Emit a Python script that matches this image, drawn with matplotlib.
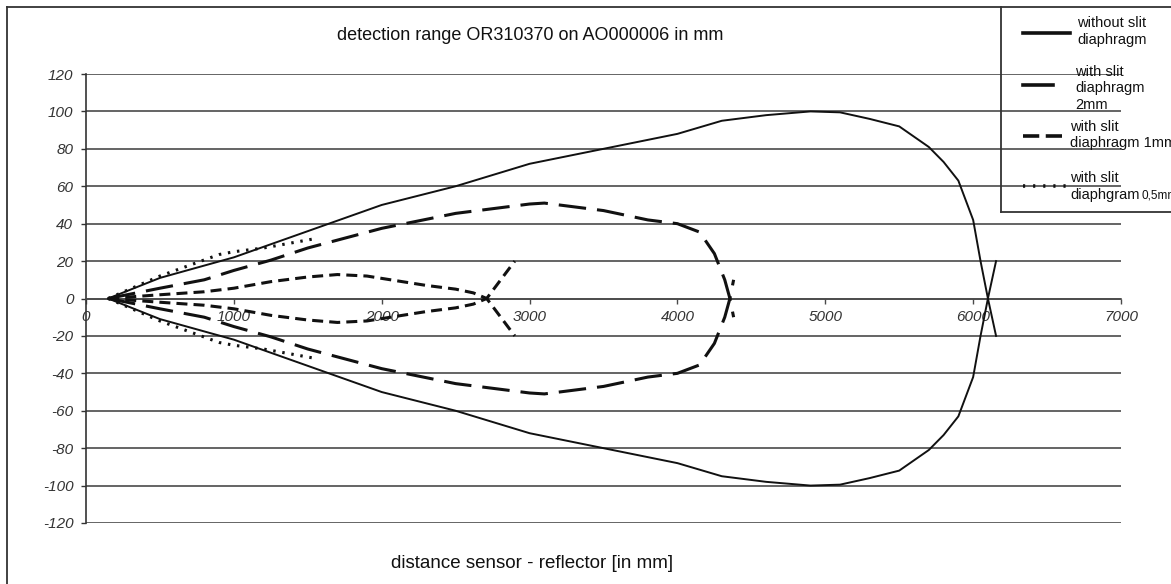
import matplotlib
matplotlib.use("Agg")
import matplotlib.pyplot as plt
from matplotlib.lines import Line2D

plt.rcParams['font.family'] = ['Liberation Sans', 'DejaVu Sans']
plt.rcParams['axes.unicode_minus'] = False

# -----------------------------
# Data (upper half, lower half is mirrored)
# -----------------------------
x_none = [150, 500, 1000, 1500, 2000, 2500, 3000, 3500, 4000, 4300, 4600, 4900,
          5100, 5300, 5500, 5700, 5800, 5900, 6000, 6050, 6100, 6155]
y_none = [0, 11, 22, 36, 50, 60, 72, 80, 88, 95, 98, 100,
          99.5, 96, 92, 81, 73, 63, 42, 20, 0, -20]

x_2mm = [150, 500, 800, 1000, 1250, 1500, 2000, 2500, 3000, 3100, 3500, 3800,
         4000, 4150, 4250, 4320, 4355, 4380]
y_2mm = [0, 5.5, 10, 15, 20.5, 27, 37.5, 45.5, 50.5, 51, 47, 42,
         40, 35.5, 24, 10, 0, -10]

x_1mm = [150, 500, 800, 1000, 1250, 1500, 1700, 1900, 2100, 2300, 2500, 2620, 2710, 2900]
y_1mm = [0, 2, 3.6, 5.5, 9, 11.5, 12.8, 12, 9.5, 7, 5, 3, 0, -20]

x_05mm = [150, 500, 900, 1000, 1200, 1550]
y_05mm = [0, 12, 23.5, 25, 27, 32]

x_ticks = [0, 1000, 2000, 3000, 4000, 5000, 6000, 7000]
y_ticks = list(range(-120, 121, 20))

TITLE = "detection range OR310370 on AO000006 in mm"
XLABEL = "distance sensor - reflector [in mm]"

# -----------------------------
# Layout helpers (pixels -> figure fraction)
# -----------------------------
W, H = 1171, 584


def px(x, y):
    return x / W, 1 - y / H


INK = "#111111"
GRID = "#4a4a4a"

LS_2MM = (0, (9, 3.6))
LS_1MM = (0, (3.6, 2))
LS_05MM = (0, (0.8, 2.2))

fig = plt.figure(figsize=(W / 100, H / 100), dpi=100)
ax = fig.add_axes([86 / W, 1 - 523 / H, (1121 - 86) / W, (523 - 74) / H])

series = [
    (x_none, y_none, "-", 1.4),
    (x_2mm, y_2mm, LS_2MM, 2.2),
    (x_1mm, y_1mm, LS_1MM, 2.2),
    (x_05mm, y_05mm, LS_05MM, 2.2),
]
for xs, ys, ls, lw in series:
    ax.plot(xs, ys, color=INK, linestyle=ls, lw=lw, zorder=3)
    ax.plot(xs, [-v for v in ys], color=INK, linestyle=ls, lw=lw, zorder=3)

ax.set_xlim(0, 7000)
ax.set_ylim(-120, 120)
ax.set_xticks(x_ticks)
ax.set_yticks(y_ticks)
ax.yaxis.grid(True, color=GRID, lw=1.2)
ax.set_axisbelow(True)

for s in ("top", "right"):
    ax.spines[s].set_visible(False)
ax.spines["bottom"].set_position(("data", 0))
ax.spines["bottom"].set_color(GRID)
ax.spines["bottom"].set_linewidth(1.2)
ax.spines["left"].set_color("#333333")
ax.spines["left"].set_linewidth(1.2)

ax.tick_params(axis="x", direction="out", length=3.6, width=1, color=GRID,
               pad=5, labelsize=11, labelcolor="#333333")
ax.tick_params(axis="y", direction="out", length=3.6, width=1, color="#333333",
               pad=5.5, labelsize=11, labelcolor="#333333")
for lab in ax.get_xticklabels() + ax.get_yticklabels():
    lab.set_fontstyle("italic")

# title and axis label
fig.text(*px(530, 35), TITLE, ha="center", va="center", fontsize=13, color=INK)
fig.text(*px(532, 563), XLABEL, ha="center", va="center", fontsize=13.5, color=INK)

# outer frame (left and top)
fig.add_artist(Line2D([7 / W, 7 / W], [0, 1 - 7 / H], color="#333333", lw=1.3))
fig.add_artist(Line2D([7 / W, 1], [1 - 7 / H, 1 - 7 / H], color="#333333", lw=1.3))

# legend box
fig.add_artist(Line2D([1001 / W, 1001 / W], [1 - 7 / H, 1 - 212 / H], color="#333333", lw=1.3))
fig.add_artist(Line2D([1001 / W, 1], [1 - 212 / H, 1 - 212 / H], color="#333333", lw=1.3))

samples = [
    (1023, 1070, 33, "-", 2.6),
    (1023, 1053, 85, "-", 2.6),
    (1023, 1068, 136, (0, (4.5, 1.8)), 2.6),
    (1023, 1068, 186, (0, (0.6, 2.2)), 2.6),
]
for x0, x1, yy, ls, lw in samples:
    fig.add_artist(Line2D([x0 / W, x1 / W], [1 - yy / H, 1 - yy / H],
                          color=INK, linestyle=ls, lw=lw))

legend_text = [
    (1077, 23, "without slit"), (1077, 40, "diaphragm"),
    (1075, 72, "with slit"), (1075, 88, "diaphragm"), (1075, 105, "2mm"),
    (1070, 127, "with slit"), (1070, 143, "diaphragm 1mm"),
    (1070, 178, "with slit"), (1070, 195, "diaphgram"),
]
for tx, ty, t in legend_text:
    fig.text(*px(tx, ty), t, ha="left", va="center", fontsize=10.5, color=INK)
fig.text(*px(1141, 196), "0,5mm", ha="left", va="center", fontsize=8.5, color=INK)

fig.savefig("out.png", dpi=100)
